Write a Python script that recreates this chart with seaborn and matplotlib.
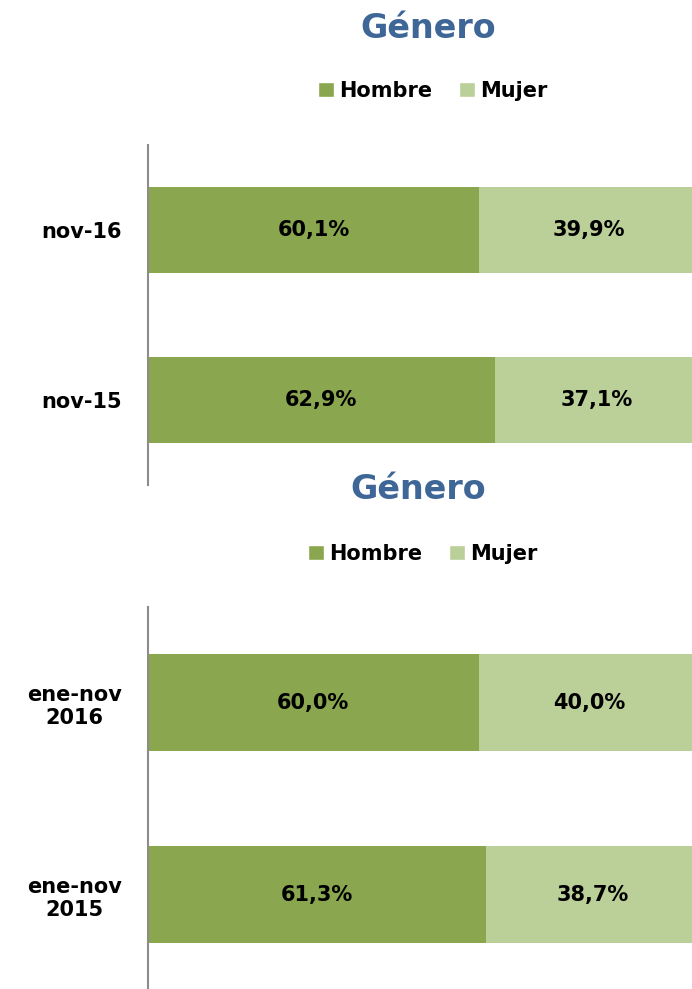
import matplotlib
matplotlib.use("Agg")
import matplotlib.pyplot as plt
from matplotlib.patches import Patch
import seaborn as sns
import pandas as pd

title = "Género"
series = ["Hombre", "Mujer"]
cats1 = ["nov-16", "nov-15"]
hombre1 = [60.1, 62.9]
mujer1 = [39.9, 37.1]
cats2 = ["ene-nov\n2016", "ene-nov\n2015"]
hombre2 = [60.0, 61.3]
mujer2 = [40.0, 38.7]

DARK = "#8AA64E"
LIGHT = "#BBCF99"
TITLE_C = "#3E6696"

sns.set_style("white")
plt.rcParams["font.family"] = ["DejaVu Sans"]
plt.rcParams["text.color"] = "black"
plt.rcParams["ytick.color"] = "black"
plt.rcParams["ytick.labelcolor"] = "black"

W, H = 692, 989
fig = plt.figure(figsize=(W / 100, H / 100), dpi=100)


def px_axes(left, top, right, bottom):
    return fig.add_axes([left / W, 1 - bottom / H, (right - left) / W, (bottom - top) / H])


def draw(ax, cats, hom, muj, bar_h):
    df = pd.DataFrame({"cat": cats, "Hombre": hom, "Mujer": muj})
    df["total"] = df["Hombre"] + df["Mujer"]
    sns.barplot(data=df, y="cat", x="total", color=LIGHT, width=bar_h,
                saturation=1, ax=ax, orient="h", linewidth=0)
    sns.barplot(data=df, y="cat", x="Hombre", color=DARK, width=bar_h,
                saturation=1, ax=ax, orient="h", linewidth=0)
    ax.set_xlim(0, 100)
    ax.set_ylim(1.5, -0.5)
    for i, (h, m) in enumerate(zip(hom, muj)):
        ax.text(h / 2, i, f"{h:.1f}%".replace(".", ","), ha="center", va="center",
                fontsize=15, fontweight="bold", color="black")
        ax.text(h + m / 2, i, f"{m:.1f}%".replace(".", ","), ha="center", va="center",
                fontsize=15, fontweight="bold", color="black")
    ax.set_xlabel("")
    ax.set_ylabel("")
    ax.set_xticks([])
    ax.tick_params(axis="y", length=0, pad=19, labelsize=15, labelcolor="black")
    for lab in ax.get_yticklabels():
        lab.set_fontweight("bold")
        lab.set_multialignment("center")
        lab.set_color("black")
    for s in ["top", "right", "bottom"]:
        ax.spines[s].set_visible(False)
    ax.spines["left"].set_color("#8C8C8C")
    ax.spines["left"].set_linewidth(1.5)


ax1 = px_axes(148, 145, 699, 485)
draw(ax1, cats1, hombre1, mujer1, 86 / 170)
ax2 = px_axes(148, 607, 699, 991)
draw(ax2, cats2, hombre2, mujer2, 97 / 192)

handles = [Patch(facecolor=DARK, label=series[0]), Patch(facecolor=LIGHT, label=series[1])]
for ty, ly, cx in [(28, 91, 428), (490, 554, 418)]:
    fig.text(cx / W, 1 - ty / H, title, ha="center", va="center", fontsize=24,
             fontweight="bold", color=TITLE_C)
    fig.legend(handles=handles, loc="center", bbox_to_anchor=((cx + 5) / W, 1 - ly / H),
               ncol=2, frameon=False, handlelength=0.75, handleheight=0.75,
               handletextpad=0.25, columnspacing=1.3, labelcolor="black",
               prop={"size": 15, "weight": "bold"})

fig.savefig("out.png", dpi=100)
